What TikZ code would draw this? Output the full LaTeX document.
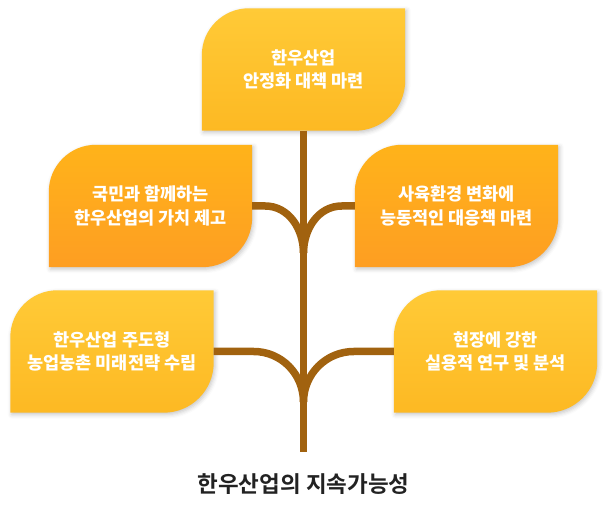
\documentclass[tikz,border=0pt]{standalone}
\usepackage{fontspec}
\newfontfamily\krfont{Noto Sans CJK KR}[BoldFont={Noto Sans CJK KR Black}]
\newfontfamily\krtitle{Noto Sans CJK KR}[BoldFont={Noto Sans CJK KR Bold}]
\usetikzlibrary{backgrounds,shadows.blur}

\definecolor{bark}{HTML}{A1620F}
\definecolor{goldtop}{HTML}{FFCA37}
\definecolor{goldbot}{HTML}{FDB923}
\definecolor{orangetop}{HTML}{FFB31A}
\definecolor{orangebot}{HTML}{FE9E22}
\definecolor{titletext}{HTML}{222222}

\newcommand\leaf[2]{%
  \path[#2] (#1.south west) -- ([yshift=-47pt]#1.north west)
    arc[start angle=180, end angle=90, radius=47pt]
    -- (#1.north east) -- ([yshift=50pt]#1.south east)
    arc[start angle=0, end angle=-90, radius=50pt] -- cycle;}

\tikzset{
  goal/.style={
    minimum width=203pt, minimum height=122pt, inner sep=0pt,
    align=center, text=white,
    font=\krfont\bfseries\fontsize{17.5}{23.5}\selectfont
  },
  goldleaf/.style={
    top color=goldtop, bottom color=goldbot,
    blur shadow={shadow xshift=1.5pt, shadow yshift=-2pt,
      shadow blur radius=4pt, shadow opacity=22}
  },
  orangeleaf/.style={
    top color=orangetop, bottom color=orangebot,
    blur shadow={shadow xshift=1.5pt, shadow yshift=-2pt,
      shadow blur radius=4pt, shadow opacity=22}
  },
  branch/.style={draw=bark, line width=7.5pt}
}

\begin{document}
\begin{tikzpicture}[x=1pt, y=1pt]
  \useasboundingbox (0,0) rectangle (608,508);

  \node[goal] (plan) at (303.5,438.5) {한우산업\\안정화 대책 마련};
  \node[goal] (value) at (150.5,302) {국민과 함께하는\\한우산업의 가치 제고};
  \node[goal] (adapt) at (456.5,302) {사육환경 변화에\\능동적인 대응책 마련};
  \node[goal] (rural) at (112,156.5) {한우산업 주도형\\농업농촌 미래전략 수립};
  \node[goal] (study) at (495.5,156.5) {현장에 강한\\실용적 연구 및 분석};

  \begin{scope}[on background layer]
    \leaf{plan}{goldleaf}
    \leaf{value}{orangeleaf}
    \leaf{adapt}{orangeleaf}
    \leaf{rural}{goldleaf}
    \leaf{study}{goldleaf}
  \end{scope}

  \coordinate (root) at (303.5,56);
  \coordinate (upper) at (303.5,255);
  \coordinate (lower) at (303.5,106);

  \draw[branch] (plan.south) -- (root);
  \draw[branch] (value.east) -- ++(13,0) to[out=0, in=90] (upper);
  \draw[branch] (adapt.west) -- ++(-13,0) to[out=180, in=90] (upper);
  \draw[branch] (rural.east) -- ++(40,0) to[out=0, in=90] (lower);
  \draw[branch] (study.west) -- ++(-40,0) to[out=180, in=90] (lower);

  \node[font=\krtitle\bfseries\fontsize{22.5}{26}\selectfont, text=titletext]
    (title) at (303.5,24) {한우산업의 지속가능성};
\end{tikzpicture}
\end{document}
